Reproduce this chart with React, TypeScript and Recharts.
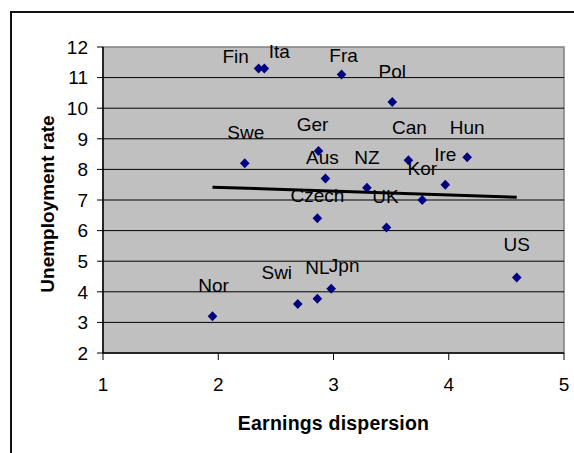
import React from 'react';
import { ScatterChart, Scatter, XAxis, YAxis, ReferenceArea, ReferenceLine } from 'recharts';

const countries = ['Fin', 'Ita', 'Swe', 'Nor', 'Swi', 'NL', 'Jpn', 'US', 'Fra', 'Pol', 'Ger', 'Aus', 'NZ', 'Can', 'Hun', 'Ire', 'Kor', 'Czech', 'UK'];
const earningsDispersion = [2.35, 2.40, 2.23, 1.95, 2.69, 2.86, 2.98, 4.59, 3.07, 3.51, 2.87, 2.93, 3.29, 3.65, 4.16, 3.97, 3.77, 2.86, 3.46];
const unemploymentRate = [11.3, 11.3, 8.2, 3.2, 3.6, 3.77, 4.1, 4.47, 11.1, 10.2, 8.6, 7.7, 7.4, 8.3, 8.4, 7.5, 7.0, 6.4, 6.1];
const xTicks = [1, 2, 3, 4, 5];
const yTicks = [2, 3, 4, 5, 6, 7, 8, 9, 10, 11, 12];
const gridValues = [3, 4, 5, 6, 7, 8, 9, 10, 11];
const trendX = [1.95, 4.59];
const trendY = [7.42, 7.09];

// label placement (style only): [dx, dy] relative to the marker
const labelOffsets: Record<string, [number, number]> = {
  Fin: [-23, -5], Ita: [15, -10], Swe: [1, -24], Nor: [1, -24], Swi: [-21, -25],
  NL: [0, -25], Jpn: [13, -17], US: [0, -26], Fra: [2, -13], Pol: [0, -24],
  Ger: [-6, -20], Aus: [-3, -15], NZ: [0, -24], Can: [1, -26], Hun: [0, -23],
  Ire: [0, -24], Kor: [0, -25], Czech: [0, -16], UK: [-1, -25],
};

const data = countries.map((name, i) => ({ name, x: earningsDispersion[i], y: unemploymentRate[i] }));

const FONT = '"Liberation Sans", Arial, sans-serif';

const DiamondWithLabel = (props: any) => {
  const { cx, cy, payload } = props;
  if (cx == null || cy == null) return null;
  const off = labelOffsets[payload.name] || [0, -24];
  return (
    <g>
      <path d={`M${cx},${cy - 5}L${cx + 4.8},${cy}L${cx},${cy + 5}L${cx - 4.8},${cy}Z`} fill="#000080" />
      <text x={cx + off[0]} y={cy + off[1]} textAnchor="middle" fontSize={19} fontFamily={FONT} fill="#000">
        {payload.name}
      </text>
    </g>
  );
};

export default function App() {
  return (
    <div style={{ position: 'absolute', left: 0, top: 0, width: 574, height: 453, overflow: 'hidden', background: '#fff' }}>
      <div style={{ position: 'absolute', left: 10, top: 11, width: 600, height: 500, borderTop: '2px solid #111', borderLeft: '2px solid #111' }} />
      <div style={{ position: 'absolute', left: 0, top: 0 }}>
        <ScatterChart width={574} height={453} margin={{ top: 47, right: 10, bottom: 0, left: 0 }}>
          <ReferenceArea x1={1} x2={5} y1={2} y2={12} fill="#c0c0c0" fillOpacity={1} stroke="#808080" strokeWidth={1.5} ifOverflow="visible" />
          {gridValues.map((v) => (
            <ReferenceLine key={v} y={v} stroke="#000" strokeWidth={1} />
          ))}
          <XAxis
            type="number"
            dataKey="x"
            domain={[1, 5]}
            ticks={xTicks}
            interval={0}
            height={100}
            tickSize={7}
            tickMargin={18}
            axisLine={{ stroke: '#000', strokeWidth: 1.5 }}
            tickLine={{ stroke: '#000' }}
            tick={{ fill: '#000', fontSize: 19, fontFamily: FONT }}
            label={{
              content: (p: any) => {
                const vb = p.viewBox || { x: 103, width: 461, y: 353 };
                return (
                  <text x={vb.x + vb.width / 2} y={vb.y + 77} textAnchor="middle" fontSize={19.5} fontWeight="bold" fontFamily={FONT} fill="#000" letterSpacing={0.2}>
                    Earnings dispersion
                  </text>
                );
              },
            }}
          />
          <YAxis
            type="number"
            dataKey="y"
            domain={[2, 12]}
            ticks={yTicks}
            interval={0}
            width={103}
            tickSize={6}
            tickMargin={9}
            axisLine={{ stroke: '#000', strokeWidth: 1.5 }}
            tickLine={{ stroke: '#000' }}
            tick={{ fill: '#000', fontSize: 19, fontFamily: FONT }}
            label={{
              content: (p: any) => {
                const vb = p.viewBox || { x: 0, y: 47, height: 306 };
                const cx = vb.x + 47;
                const cy = vb.y + vb.height / 2 + 4;
                return (
                  <text x={cx} y={cy} transform={`rotate(-90, ${cx}, ${cy})`} textAnchor="middle" dominantBaseline="central" fontSize={19} fontWeight="bold" fontFamily={FONT} fill="#000">
                    Unemployment rate
                  </text>
                );
              },
            }}
          />
          <ReferenceLine
            segment={[{ x: trendX[0], y: trendY[0] }, { x: trendX[1], y: trendY[1] }]}
            stroke="#000"
            strokeWidth={3}
          />
          <Scatter data={data} isAnimationActive={false} shape={DiamondWithLabel} />
        </ScatterChart>
      </div>
    </div>
  );
}
